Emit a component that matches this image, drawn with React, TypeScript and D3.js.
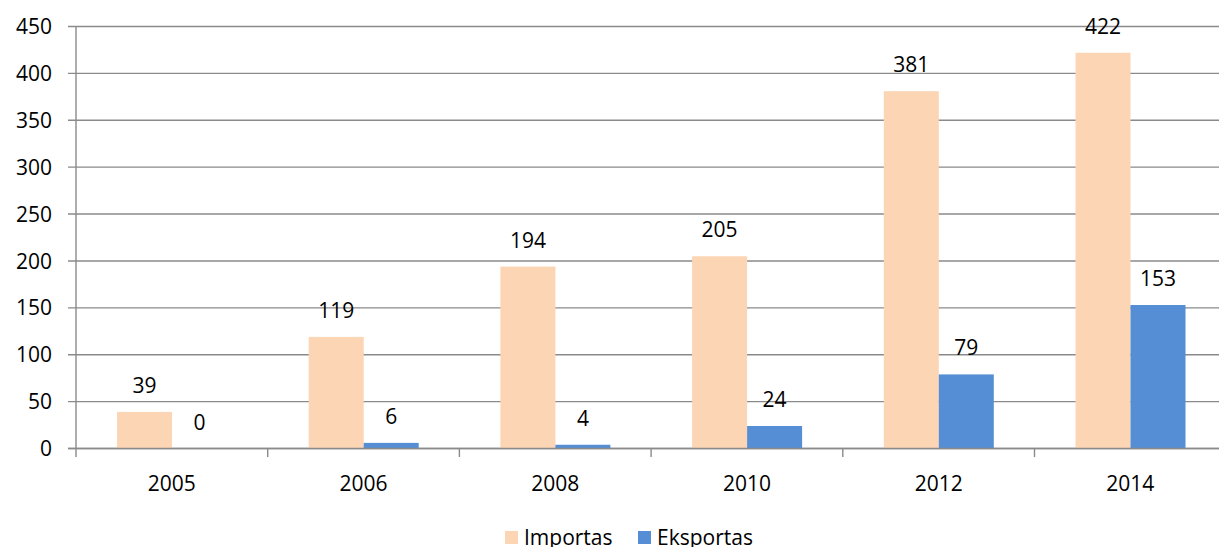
import React from "react";
import * as d3 from "d3";

const years = ["2005", "2006", "2008", "2010", "2012", "2014"];
const importas = [39, 119, 194, 205, 381, 422];
const eksportas = [0, 6, 4, 24, 79, 153];
const seriesNames = ["Importas", "Eksportas"];
const seriesColors = ["#FCD5B5", "#558ED5"];
const yTicks = [0, 50, 100, 150, 200, 250, 300, 350, 400, 450];

const W = 1219;
const H = 547;
const FONT = "'Open Sans', Lato, sans-serif";

export default function App() {
  const x = d3.scaleBand<string>().domain(years).range([76, 76 + 6 * 191.7]).padding(0);
  const inner = d3.scaleBand<string>().domain(seriesNames).range([41, 151]).padding(0);
  const y = d3.scaleLinear().domain([0, 450]).range([448.5, 26.5]);
  const series = [importas, eksportas];
  const gridColor = "#8a8a8a";

  return (
    <svg width={W} height={H} style={{ position: "absolute", left: 0, top: 0 }} fontFamily={FONT}>
      <rect width={W} height={H} fill="#fff" />
      {yTicks.map((t) => (
        <g key={t}>
          <line x1={68} x2={W} y1={y(t)} y2={y(t)} stroke={gridColor} strokeWidth={1.4} />
          <text x={52} y={y(t)} dy="0.36em" textAnchor="end" fontSize={21} fill="#000">
            {t}
          </text>
        </g>
      ))}
      {series.map((vals, si) =>
        vals.map((v, i) => {
          const bx = (x(years[i]) as number) + (inner(seriesNames[si]) as number);
          const bw = inner.bandwidth();
          return (
            <rect key={`${si}-${i}`} x={bx} y={y(v)} width={bw} height={y(0) - y(v)} fill={seriesColors[si]} />
          );
        })
      )}
      <line x1={76} x2={76} y1={y(450)} y2={457} stroke={gridColor} strokeWidth={1.4} />
      <line x1={68} x2={W} y1={y(0)} y2={y(0)} stroke={gridColor} strokeWidth={1.4} />
      {years.map((yr, i) => {
        const bx = x(yr) as number;
        return (
          <g key={yr}>
            {i > 0 && <line x1={bx} x2={bx} y1={y(0)} y2={457} stroke={gridColor} strokeWidth={1.4} />}
            <text x={bx + x.bandwidth() / 2} y={491} textAnchor="middle" fontSize={21} fill="#000">
              {yr}
            </text>
          </g>
        );
      })}
      {series.map((vals, si) =>
        vals.map((v, i) => {
          const cx = (x(years[i]) as number) + (inner(seriesNames[si]) as number) + inner.bandwidth() / 2;
          return (
            <text key={`l-${si}-${i}`} x={cx} y={y(v) - 19} textAnchor="middle" fontSize={21} fill="#000">
              {v}
            </text>
          );
        })
      )}
      <g>
        <rect x={505} y={531} width={13} height={13} fill={seriesColors[0]} />
        <text x={524} y={545} fontSize={21} fill="#000">{seriesNames[0]}</text>
        <rect x={638} y={531} width={13} height={13} fill={seriesColors[1]} />
        <text x={657} y={545} fontSize={21} fill="#000">{seriesNames[1]}</text>
      </g>
    </svg>
  );
}
